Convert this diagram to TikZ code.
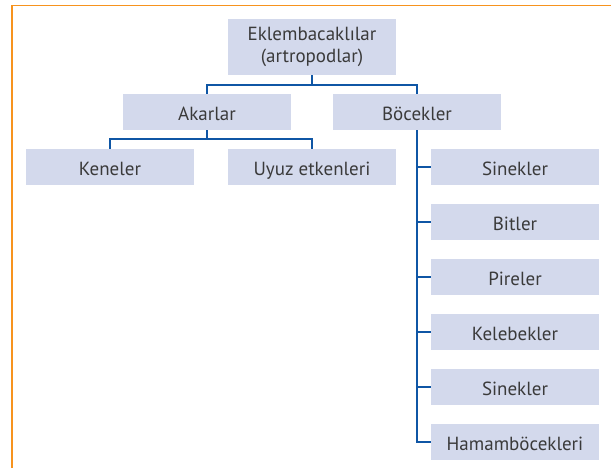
\documentclass[tikz,border=0pt]{standalone}
\usepackage{fontspec}
\setmainfont{PT Sans}
\definecolor{boxfill}{HTML}{D3D9EC}
\definecolor{linkblue}{HTML}{0F56A5}
\definecolor{txtgray}{HTML}{3A3A3A}
\definecolor{frameorange}{HTML}{F7931E}
\begin{document}
\begin{tikzpicture}[x=1pt,y=-1pt,
  basebox/.style={fill=boxfill,draw=none,minimum width=168pt,minimum height=36pt,
    inner sep=0pt,text=txtgray,font=\fontsize{19}{22}\selectfont},
  catbox/.style={basebox,text height=17pt,text depth=0pt},
  link/.style={draw=linkblue,line width=2.4pt}]
\useasboundingbox (0,0) rectangle (611,468);
\draw[frameorange,line width=1pt] (11,6) -- (611,6);
\draw[frameorange,line width=2pt] (12,6) -- (12,468);
\node[basebox,align=center,minimum height=56pt] (root) at (312,47) {Eklembacaklılar\\(artropodlar)};
\node[catbox] (akar) at (207,112) {Akarlar};
\node[catbox] (boc) at (417,112) {Böcekler};
\node[catbox] (kene) at (110,167) {Keneler};
\node[catbox] (uyuz) at (312,167) {Uyuz etkenleri};
\node[catbox] (s1) at (515,167) {Sinekler};
\node[catbox] (s2) at (515,222) {Bitler};
\node[catbox] (s3) at (515,277) {Pireler};
\node[catbox] (s4) at (515,332) {Kelebekler};
\node[catbox] (s5) at (515,387) {Sinekler};
\node[catbox] (s6) at (515,442) {Hamamböcekleri};
\coordinate (j1) at (312,85);
\coordinate (j2) at (207,139);
\draw[link] (root.south) -- (j1);
\draw[link] (akar.north) |- (j1) -| (boc.north);
\draw[link] (akar.south) -- (j2);
\draw[link] (kene.north) |- (j2) -| (uyuz.north);
\draw[link] (boc.south) |- (s6.west);
\foreach \n in {s1,s2,s3,s4,s5}{
  \draw[link] (boc.south |- \n.west) -- (\n.west);
}
\end{tikzpicture}
\end{document}
